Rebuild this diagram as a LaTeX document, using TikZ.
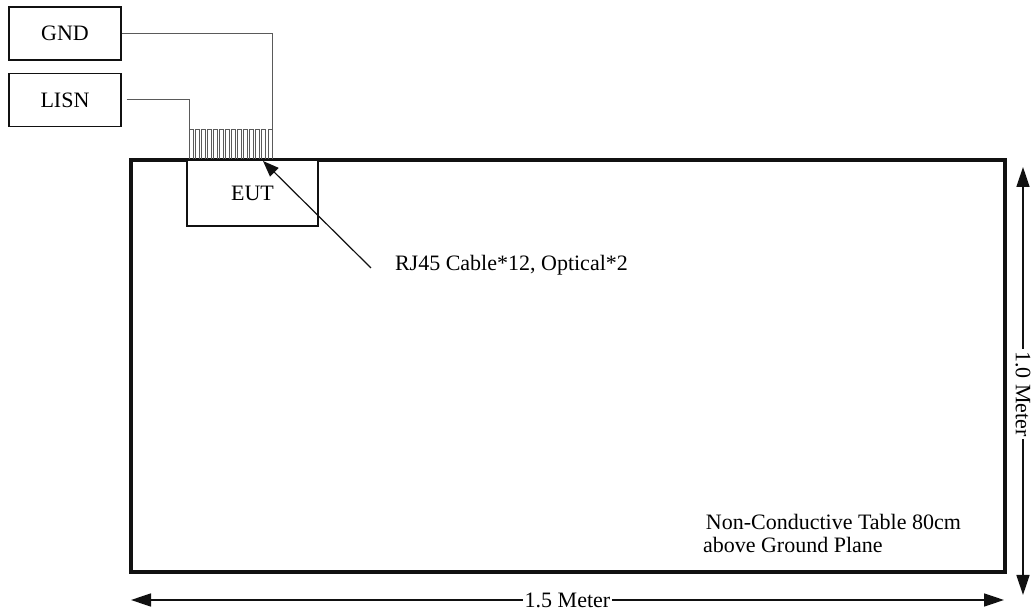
\documentclass[tikz,border=0pt]{standalone}
\usepackage{fontspec}
\setmainfont{Liberation Serif}
\usepackage{xcolor}
\usepackage{tikz}
\usetikzlibrary{arrows.meta,positioning}
\definecolor{setupblack}{HTML}{111111}
\definecolor{cablegray}{HTML}{5A5A5A}

\begin{document}
\begin{tikzpicture}[x=0.5pt, y=-0.5pt,
  every node/.style={font=\fontsize{11}{13}\selectfont},
  unitbox/.style={draw=setupblack, line width=0.6pt, minimum width=56pt,
                  minimum height=26.5pt, inner sep=0pt},
  eutbox/.style={draw=setupblack, line width=0.6pt, fill=white,
                 minimum width=65.5pt, minimum height=33pt, inner sep=0pt},
  tablerect/.style={draw=setupblack, line width=1.6pt, minimum width=437pt,
                    minimum height=206pt, inner sep=0pt},
  cable/.style={draw=cablegray, line width=0.5pt},
  dimline/.style={{Triangle[length=10pt,width=6.5pt]}-{Triangle[length=10pt,width=6.5pt]},
                  line width=0.8pt, draw=setupblack},
  pointer/.style={-{Triangle[length=8pt,width=6pt]}, line width=0.6pt, draw=setupblack},
  dimlabel/.style={fill=white, inner sep=1pt}
]
\useasboundingbox (0,0) rectangle (1034,613);
\node[tablerect] (table) at (568,366) {};
\node[unitbox] (gnd) at (65,33.5) {GND};
\node[unitbox] (lisn) at (65,100) {LISN};
\coordinate (bundleL) at (189,130);
\coordinate (bundleR) at (272,130);
\foreach \k in {0,...,13}
  \draw[cable] ({189+6.08*\k},160) -- ({189+6.08*\k},130) -- ({193+6.08*\k},130) -- ({193+6.08*\k},160);
\draw[cable] (gnd.east) -| (bundleR);
\draw[cable, shorten <=2.5pt] (lisn.east) -| (bundleL);
\node[eutbox] (eut) at (252.5,193) {EUT};
\coordinate (jackpoint) at (263,161);
\coordinate (rjtail) at (371,268);
\draw[pointer] (rjtail) -- (jackpoint);
\node[anchor=base west] (rjlabel) at (388,271) {RJ45 Cable*12, Optical*2};
\node[anchor=base east] (tabletext) at (968,530) {Non-Conductive Table 80cm};
\node[anchor=base west] (groundtext) at (696,553) {above Ground Plane};
\coordinate (wL) at (131,600);
\coordinate (wR) at (1004,600);
\draw[dimline] (wL) -- node[dimlabel] (widthlabel) {1.5 Meter} (wR);
\coordinate (hT) at (1023,167);
\coordinate (hB) at (1023,595);
\draw[dimline] (hT) -- node[dimlabel, rotate=-90, pos=0.53] (heightlabel) {1.0 Meter} (hB);
\end{tikzpicture}
\end{document}
